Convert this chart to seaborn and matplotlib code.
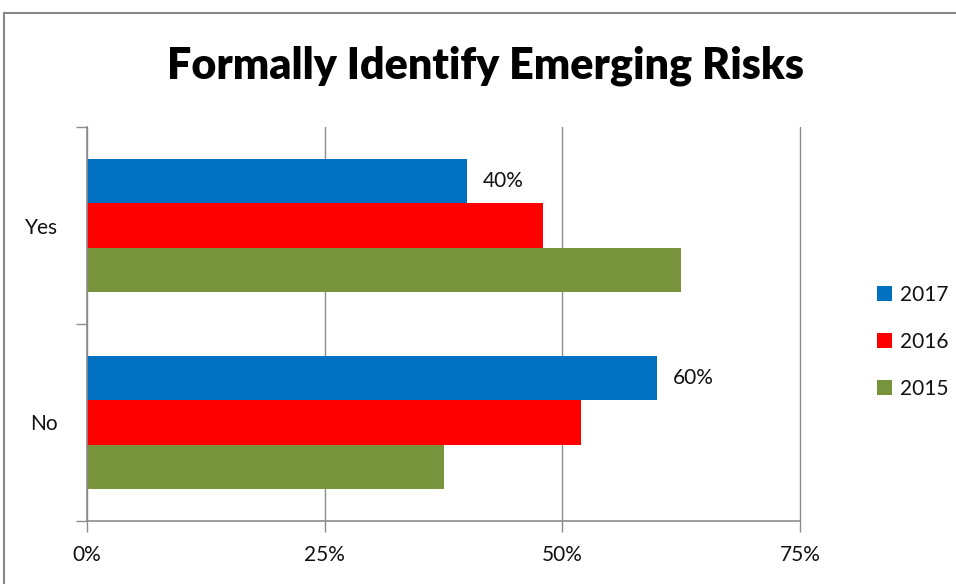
import pandas as pd
import numpy as np
import seaborn as sns
import matplotlib
matplotlib.use("Agg")
from matplotlib import pyplot as plt
from matplotlib.patches import Rectangle
from matplotlib.ticker import FixedLocator

answers = ["Yes", "No"]
years = ["2017", "2016", "2015"]
values_2017 = [40, 60]
values_2016 = [48, 52]
values_2015 = [62.5, 37.5]
colors = ["#0070C0", "#FF0000", "#77933C"]
x_ticks = [0, 25, 50, 75]
x_tick_labels = ["0%", "25%", "50%", "75%"]

df = pd.DataFrame({
    "answer": answers * 3,
    "year": ["2017"] * 2 + ["2016"] * 2 + ["2015"] * 2,
    "value": values_2017 + values_2016 + values_2015,
})

sns.set_style("white")
plt.rcParams["font.family"] = ["Lato", "DejaVu Sans"]
plt.rcParams["text.color"] = "black"
plt.rcParams["xtick.color"] = "black"
plt.rcParams["ytick.color"] = "black"

fig = plt.figure(figsize=(9.56, 5.84), dpi=100)
ax = fig.add_axes([87 / 956, 1 - 521 / 584, 713 / 956, 394 / 584])

sns.barplot(
    data=df, y="answer", x="value", hue="year",
    order=answers, hue_order=years, palette=colors,
    width=0.68, orient="h", ax=ax, saturation=1, legend=True,
    linewidth=0,
)

ax.set_xlim(0, 75)
ax.set_ylim(1.5, -0.5)
ax.set_xlabel("")
ax.set_ylabel("")

grid_col = "#8c8c8c"
ax.xaxis.set_major_locator(FixedLocator(x_ticks))
ax.set_xticklabels(x_tick_labels)
ax.grid(axis="x", color=grid_col, lw=1)
ax.grid(axis="y", visible=False)
ax.set_axisbelow(True)
for line in ax.get_xgridlines():
    line.set_clip_on(False)
for s in ["top", "right"]:
    ax.spines[s].set_visible(False)
for s in ["left", "bottom"]:
    ax.spines[s].set_color(grid_col)
    ax.spines[s].set_linewidth(1.2)

ax.tick_params(axis="x", length=8, width=1, color=grid_col, direction="out",
               labelsize=15, labelcolor="#111111", pad=9, bottom=True)
ax.yaxis.set_minor_locator(FixedLocator([-0.5, 0.5, 1.5]))
ax.tick_params(axis="y", which="major", length=0, labelsize=15,
               labelcolor="#111111", pad=21)
ax.tick_params(axis="y", which="minor", length=8, width=1, color=grid_col,
               direction="out", left=True)

# data labels only on the 2017 bars
bars_2017 = ax.containers[0]
ax.bar_label(bars_2017, labels=[f"{v}%" for v in values_2017],
             padding=11, fontsize=15, color="#111111")

handles, labels = ax.get_legend_handles_labels()
ax.get_legend().remove()
fig.legend(handles, labels, loc="center left",
           bbox_to_anchor=(858 / 956, 1 - 342 / 584),
           frameon=False, fontsize=15, handlelength=0.75, handleheight=0.75,
           handletextpad=0.35, labelspacing=1.3, labelcolor="#111111")

fig.text(0.508, 1 - 66 / 584, "Formally Identify Emerging Risks",
         ha="center", va="center", fontsize=31, fontweight="heavy",
         color="black")

fig.patches.append(Rectangle((4 / 956, -0.1), 1.2, 1.1 - 13 / 584,
                             transform=fig.transFigure, fill=False,
                             edgecolor="#888888", lw=1.5))

fig.savefig("out.png", dpi=100)
